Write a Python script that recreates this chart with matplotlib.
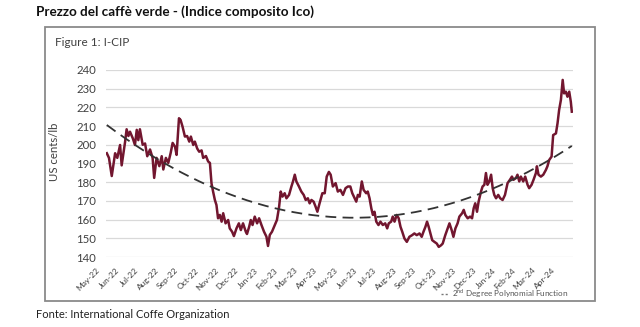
import numpy as np
import matplotlib
matplotlib.use("Agg")
import matplotlib.pyplot as plt
from matplotlib.patches import Rectangle
from matplotlib.lines import Line2D

plt.rcParams['font.family'] = ['Lato', 'DejaVu Sans']
plt.rcParams['mathtext.fontset'] = 'custom'
plt.rcParams['mathtext.rm'] = 'Lato'

# ---- data (x in months since May 2022, value in US cents/lb) ----
month_labels = ['May-22', 'Jun-22', 'Jul-22', 'Aug-22', 'Sep-22', 'Oct-22', 'Nov-22', 'Dec-22',
                'Jan-23', 'Feb-23', 'Mar-23', 'Apr-23', 'May-23', 'Jun-23', 'Jul-23', 'Aug-23',
                'Sep-23', 'Oct-23', 'Nov-23', 'Dec-23', 'Jan-24', 'Feb-24', 'Mar-24', 'Apr-24']

t_months = [0.49, 0.60, 0.74, 0.91, 1.02, 1.16, 1.24, 1.41, 1.49, 1.58, 1.66, 1.80, 1.91, 2.00,
            2.08, 2.16, 2.30, 2.42, 2.53, 2.67, 2.80, 2.88, 3.00, 3.14, 3.26, 3.34, 3.47, 3.59,
            3.71, 3.81, 3.93, 4.01, 4.13, 4.21, 4.31, 4.43, 4.54, 4.65, 4.73, 4.85, 4.93, 5.05,
            5.15, 5.27, 5.35, 5.49, 5.60, 5.69, 5.77, 5.85, 5.94, 6.02, 6.10, 6.19, 6.28, 6.36,
            6.48, 6.61, 6.69, 6.81, 6.90, 7.03, 7.15, 7.25, 7.36, 7.50, 7.56, 7.67, 7.75, 7.84,
            7.95, 8.07, 8.17, 8.29, 8.42, 8.54, 8.62, 8.71, 8.82, 8.96, 9.07, 9.18, 9.26, 9.35,
            9.46, 9.55, 9.68, 9.80, 9.88, 9.97, 10.05, 10.18, 10.30, 10.42, 10.52, 10.63, 10.72,
            10.81, 10.92, 11.02, 11.11, 11.22, 11.36, 11.48, 11.58, 11.69, 11.78, 11.89, 12.03,
            12.14, 12.27, 12.40, 12.53, 12.65, 12.77, 12.87, 12.99, 13.07, 13.15, 13.24, 13.35,
            13.44, 13.57, 13.65, 13.74, 13.83, 13.91, 13.99, 14.08, 14.19, 14.29, 14.41, 14.53,
            14.63, 14.71, 14.83, 14.91, 15.00, 15.11, 15.21, 15.30, 15.39, 15.50, 15.62, 15.75,
            15.89, 16.00, 16.12, 16.26, 16.37, 16.46, 16.56, 16.64, 16.72, 16.81, 16.90, 17.01,
            17.13, 17.23, 17.35, 17.43, 17.56, 17.68, 17.77, 17.88, 17.97, 18.07, 18.18, 18.27,
            18.41, 18.49, 18.57, 18.69, 18.81, 18.91, 18.99, 19.07, 19.16, 19.24, 19.36, 19.44,
            19.53, 19.61, 19.69, 19.78, 19.87, 19.95, 20.03, 20.12, 20.23, 20.33, 20.45, 20.57,
            20.70, 20.82, 20.92, 21.00, 21.12, 21.20, 21.29, 21.37, 21.49, 21.59, 21.71, 21.79,
            21.91, 22.01, 22.13, 22.18, 22.26, 22.38, 22.50, 22.63, 22.71, 22.80, 22.92, 23.00,
            23.14, 23.22, 23.30, 23.39, 23.48, 23.55, 23.64, 23.72, 23.81, 23.89, 23.94]

icip = [195.5, 193.0, 183.3, 195.5, 193.0, 199.9, 189.0, 201.4, 208.3, 204.7, 207.0, 203.5, 199.9, 208.0,
        202.5, 208.3, 200.0, 200.7, 193.9, 197.5, 193.0, 182.3, 193.0, 188.6, 193.9, 186.8, 193.0, 190.3,
        195.6, 201.0, 199.0, 194.6, 214.2, 213.3, 209.7, 204.4, 204.7, 201.7, 204.4, 199.9, 201.7, 198.0,
        196.3, 197.0, 193.0, 194.0, 191.1, 190.3, 179.4, 175.0, 170.5, 167.8, 160.7, 162.5, 158.9, 163.4,
        158.0, 159.8, 155.3, 153.5, 151.2, 155.3, 158.0, 154.4, 158.0, 153.5, 152.3, 156.2, 159.8, 157.1,
        161.6, 158.0, 160.7, 157.1, 153.5, 150.9, 145.9, 151.8, 153.5, 157.1, 159.8, 166.9, 175.0, 172.3,
        174.1, 171.4, 173.2, 177.7, 180.4, 184.0, 180.4, 177.7, 175.0, 173.2, 170.5, 171.4, 168.7,
        170.5, 169.6, 166.9, 164.2, 168.7, 174.1, 174.1, 183.0, 185.5, 184.0, 177.7, 179.5,
        175.0, 175.9, 173.2, 176.8, 177.7, 177.7, 174.1, 171.4, 169.6, 173.2, 172.3, 180.4,
        175.9, 174.1, 175.0, 171.4, 166.0, 162.5, 164.2, 158.9, 157.1, 158.9, 157.1, 158.0,
        155.3, 158.0, 158.9, 161.6, 158.9, 162.5, 160.7, 156.2, 153.5, 149.9, 148.1, 150.8,
        151.7, 152.6, 151.7, 152.6, 150.8, 153.5, 156.2, 158.9, 156.2, 152.6, 149.0, 148.1,
        147.2, 145.4, 146.3, 147.2, 151.7, 155.3, 158.0, 154.4, 150.8, 155.3, 158.0, 161.6,
        163.4, 165.2, 162.5, 160.7, 161.6, 160.7, 166.0, 168.7, 164.2, 169.6, 175.0, 177.7,
        178.6, 184.9, 178.6, 180.4, 184.0, 176.8, 173.2, 171.4, 173.2, 171.4, 170.5, 173.2,
        179.5, 181.3, 183.0, 181.3, 182.2, 184.0, 180.4, 183.0, 180.4, 183.0, 178.6, 176.8,
        178.6, 181.3, 184.9, 188.5, 184.0, 183.0, 184.0, 186.5, 188.5, 191.9, 193.7, 205.2,
        206.1, 211.5, 218.6, 224.0, 234.7, 227.5, 228.4, 225.7, 228.4, 223.0, 217.7]

# trend line (2nd degree polynomial) read at three points
trend_t = [0.49, 12.95, 23.94]
trend_v = [210.6, 161.0, 199.4]

y_ticks = [140, 150, 160, 170, 180, 190, 200, 210, 220, 230, 240]

# ---- figure ----
fig = plt.figure(figsize=(6.4, 3.27), dpi=100)
W, H = 640, 327

def fx(px):
    return px / W

def fy(py):
    return 1 - py / H

# frame box
fig.patches.append(Rectangle((fx(45), fy(301)), fx(595) - fx(45), fy(27) - fy(301),
                             transform=fig.transFigure, fill=False, edgecolor='#8a8a8a',
                             linewidth=1.3))

fig.text(fx(36), fy(12), 'Prezzo del caffè verde - (Indice composito Ico)', fontsize=9.7,
         fontweight='bold', ha='left', va='center', color='#111111')
fig.text(fx(55), fy(43), 'Figure 1: I-CIP', fontsize=8.5, ha='left', va='center', color='#404040')
fig.text(fx(36), fy(315), 'Fonte: International Coffe Organization', fontsize=8,
         ha='left', va='center', color='#222222')

ax = fig.add_axes([fx(106), fy(257), fx(573) - fx(106), fy(70) - fy(257)])
ax.set_xlim(0.45, 24.0)
ax.set_ylim(140, 240)
ax.set_yticks(y_ticks)
ax.set_xticks([])
for s in ax.spines.values():
    s.set_visible(False)
ax.tick_params(axis='y', length=0, pad=7, labelsize=8.2, labelcolor='#404040')
ax.grid(axis='y', color='#d9d9d9', linewidth=0.9)
ax.set_axisbelow(True)

# series
ax.plot(t_months, icip, color='#72162f', linewidth=1.8, zorder=3, solid_joinstyle='round')

coef = np.polyfit(trend_t, trend_v, 2)
tt = np.linspace(trend_t[0], trend_t[-1], 200)
ax.plot(tt, np.polyval(coef, tt), color='#333333', linewidth=1.3, dashes=(6, 3.5), zorder=4)

# x tick labels (month names)
for i, lab in enumerate(month_labels):
    ax.annotate(lab, xy=(i, 0), xycoords=('data', 'axes fraction'), xytext=(1, -12),
                textcoords='offset pixels', rotation=45, ha='right', va='center',
                rotation_mode='anchor', fontsize=6.0, color='#404040', annotation_clip=False)

fig.text(fx(55), fy(152), 'US cents/lb', rotation=90, fontsize=8.2, ha='center', va='center',
         color='#404040')

# legend
proxy = Line2D([], [], color='#777777', linewidth=1.0, dashes=(1.5, 1.5))
fig.legend([proxy], [r'2$^{\mathrm{nd}}$ Degree Polynomial Function'], loc='center right',
           bbox_to_anchor=(fx(572), fy(294)), frameon=False, fontsize=5.9, handlelength=1.0,
           handletextpad=0.3, borderpad=0, labelcolor='#555555')

fig.savefig('out.png', dpi=100)
